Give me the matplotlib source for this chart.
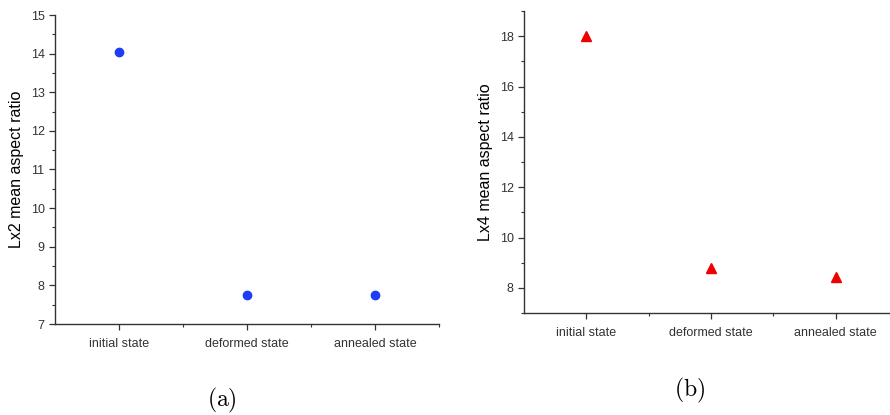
import matplotlib.pyplot as plt
from matplotlib.ticker import MultipleLocator

plt.rcParams['font.family'] = ['Liberation Sans', 'DejaVu Sans']
plt.rcParams['mathtext.fontset'] = 'cm'

states = ["initial state", "deformed state", "annealed state"]
lx2_ratio = [14.05, 7.76, 7.74]
lx4_ratio = [18.0, 8.78, 8.42]

fig = plt.figure(figsize=(8.9, 4.15), dpi=100)
W, H = 890, 415


def px_axes(left, top, right, bottom):
    return fig.add_axes([left / W, 1 - bottom / H, (right - left) / W, (bottom - top) / H])


def style(ax, ylabel, ylim, major, minor):
    x = range(1, len(states) + 1)
    ax.set_xlim(0.5, 3.5)
    ax.set_ylim(*ylim)
    ax.set_xticks(list(x))
    ax.set_xticklabels(states)
    ax.set_xticks([1.5, 2.5, 3.5], minor=True)
    ax.yaxis.set_major_locator(MultipleLocator(major))
    ax.yaxis.set_minor_locator(MultipleLocator(minor))
    for s in ("top", "right"):
        ax.spines[s].set_visible(False)
    for s in ("left", "bottom"):
        ax.spines[s].set_color("#333333")
        ax.spines[s].set_linewidth(1.0)
    ax.tick_params(which="major", direction="out", length=4, width=0.9,
                   colors="#333333", labelsize=9, labelcolor="#333333")
    ax.tick_params(which="minor", direction="out", length=2.5, width=0.8, colors="#333333")
    ax.tick_params(axis="x", pad=6)
    ax.set_ylabel(ylabel, fontsize=11.5)


# (a)
ax1 = px_axes(55, 15, 439, 324)
ax1.plot(range(1, 4), lx2_ratio, "o", color="#1f3cf5", markersize=6, linestyle="none")
style(ax1, "Lx2 mean aspect ratio", (7, 15), 1, 0.5)
ax1.yaxis.set_label_coords(-0.08, 0.5)

# (b)
ax2 = px_axes(524, 11, 898, 313)
ax2.plot(range(1, 4), lx4_ratio, "^", color="#ee0000", markersize=6.5, linestyle="none")
style(ax2, "Lx4 mean aspect ratio", (7, 19), 2, 1)
ax2.yaxis.set_label_coords(-0.082, 0.5)

fig.text(222 / W, 1 - 400 / H, r"$\mathrm{(a)}$", fontsize=17, ha="center", va="center")
fig.text(690 / W, 1 - 390 / H, r"$\mathrm{(b)}$", fontsize=17, ha="center", va="center")

fig.savefig("out.png", dpi=100)
